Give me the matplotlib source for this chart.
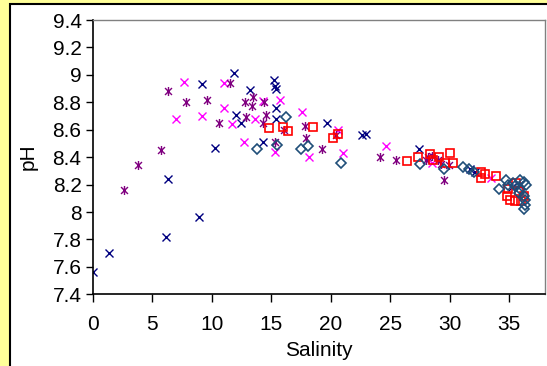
import matplotlib
matplotlib.use('Agg')
import matplotlib.pyplot as plt
from matplotlib.path import Path
from matplotlib.patches import Rectangle

plt.rcParams['font.family'] = ['Liberation Sans', 'DejaVu Sans']

# salinity / pH for each series
navy_sal = [0.0, 1.4, 6.2, 8.9, 6.3, 10.3, 9.2, 11.9, 13.2, 15.2, 15.3, 15.4, 15.4, 12.0, 12.5,
            15.4, 14.3, 19.7, 22.6, 23.0, 27.4, 31.7, 32.1, 35.2, 35.8]
navy_ph = [7.56, 7.70, 7.82, 7.96, 8.24, 8.47, 8.93, 9.01, 8.89, 8.96, 8.92, 8.90, 8.76, 8.71, 8.65,
           8.68, 8.51, 8.65, 8.56, 8.57, 8.46, 8.31, 8.29, 8.18, 8.20]

mag_sal = [7.7, 7.0, 9.2, 11.0, 11.0, 11.7, 12.7, 13.6, 14.3, 15.7, 15.3, 17.6, 18.2, 20.6, 21.0,
           24.6, 28.5, 33.5]
mag_ph = [8.95, 8.68, 8.70, 8.94, 8.76, 8.64, 8.51, 8.68, 8.81, 8.82, 8.44, 8.73, 8.40, 8.60, 8.43,
          8.48, 8.36, 8.25]

pur_sal = [2.6, 3.8, 5.7, 6.3, 7.8, 9.6, 11.5, 10.6, 12.8, 13.5, 13.4, 14.4, 12.9, 14.3, 14.6,
           16.1, 17.8, 17.9, 15.3, 20.4, 19.3, 24.1, 25.5, 28.0, 28.2, 29.0, 29.9, 29.5, 28.5, 29.3]
pur_ph = [8.16, 8.34, 8.45, 8.88, 8.80, 8.82, 8.94, 8.65, 8.80, 8.84, 8.77, 8.80, 8.69, 8.65, 8.71,
          8.60, 8.63, 8.54, 8.51, 8.56, 8.46, 8.40, 8.38, 8.38, 8.40, 8.38, 8.34, 8.23, 8.41, 8.35]

red_sal = [14.8, 16.0, 16.4, 18.5, 20.2, 20.6, 26.4, 27.3, 28.3, 29.1, 30.0, 30.3, 29.6, 28.6,
           32.6, 33.0, 33.9, 32.6, 34.8, 34.9, 35.1, 35.6, 35.8, 36.2, 36.0, 35.5]
red_ph = [8.61, 8.62, 8.59, 8.62, 8.54, 8.57, 8.37, 8.40, 8.42, 8.40, 8.43, 8.36, 8.36, 8.38,
          8.29, 8.28, 8.26, 8.25, 8.12, 8.17, 8.09, 8.21, 8.15, 8.12, 8.08, 8.08]

dia_sal = [16.2, 15.5, 13.8, 17.5, 18.1, 20.9, 27.5, 29.5, 31.1, 31.6, 32.0, 34.1, 34.7, 34.9,
           35.9, 36.2, 35.9, 36.2, 36.3, 36.3, 36.2, 35.8, 35.5, 36.4, 35.3]
dia_ph = [8.69, 8.49, 8.46, 8.46, 8.48, 8.36, 8.35, 8.31, 8.33, 8.31, 8.29, 8.17, 8.23, 8.20,
          8.23, 8.22, 8.17, 8.12, 8.09, 8.05, 8.02, 8.14, 8.19, 8.20, 8.21]

x_ticks = [0, 5, 10, 15, 20, 25, 30, 35]
y_ticks = [7.4, 7.6, 7.8, 8, 8.2, 8.4, 8.6, 8.8, 9, 9.2, 9.4]
y_labels = ['7.4', '7.6', '7.8', '8', '8.2', '8.4', '8.6', '8.8', '9', '9.2', '9.4']

# excel style star: x with a vertical bar
star = Path([(-1, -1), (1, 1), (-1, 1), (1, -1), (0, -1.3), (0, 1.3)],
            [Path.MOVETO, Path.LINETO, Path.MOVETO, Path.LINETO, Path.MOVETO, Path.LINETO])

fig = plt.figure(figsize=(5.47, 3.66), dpi=100, facecolor='#FFFF99')
W, H = 547.0, 366.0
fig.add_artist(Rectangle((10 / W, -0.1), 1.2, 1 - 4 / H + 0.1, transform=fig.transFigure,
                         facecolor='white', edgecolor='black', lw=1.5, zorder=0))

ax = fig.add_axes([92.7 / W, 1 - 294.3 / H, (545 - 92.7) / W, (294.3 - 20) / H])
ax.set_facecolor('white')

ax.plot(navy_sal, navy_ph, ls='none', marker='x', ms=6, mew=1.0, color='#000080')
ax.plot(mag_sal, mag_ph, ls='none', marker='x', ms=6, mew=1.0, color='#FF00FF')
ax.plot(pur_sal, pur_ph, ls='none', marker=star, ms=6.5, mew=1.0, color='#800080')
ax.plot(red_sal, red_ph, ls='none', marker='s', ms=5.5, mew=1.2, mfc='none', mec='#FF0000')
ax.plot(dia_sal, dia_ph, ls='none', marker='D', ms=4.8, mew=1.2, mfc='none', mec='#1F4E79')

ax.set_xlim(0, 38)
ax.set_ylim(7.4, 9.4)
ax.set_xticks(x_ticks)
ax.set_yticks(y_ticks)
ax.set_yticklabels(y_labels)

for s in ['left', 'bottom']:
    ax.spines[s].set_color('black')
    ax.spines[s].set_linewidth(1.2)
for s in ['top', 'right']:
    ax.spines[s].set_color('#808080')
    ax.spines[s].set_linewidth(1.0)

ax.tick_params(axis='x', direction='out', length=6, width=1, labelsize=15, pad=9)
ax.tick_params(axis='y', direction='out', length=5, width=1, labelsize=15, pad=3)

ax.set_xlabel('Salinity', fontsize=15, labelpad=5)
ax.set_ylabel('pH', fontsize=15, labelpad=11)

plt.savefig('out.png', dpi=100, facecolor=fig.get_facecolor())
